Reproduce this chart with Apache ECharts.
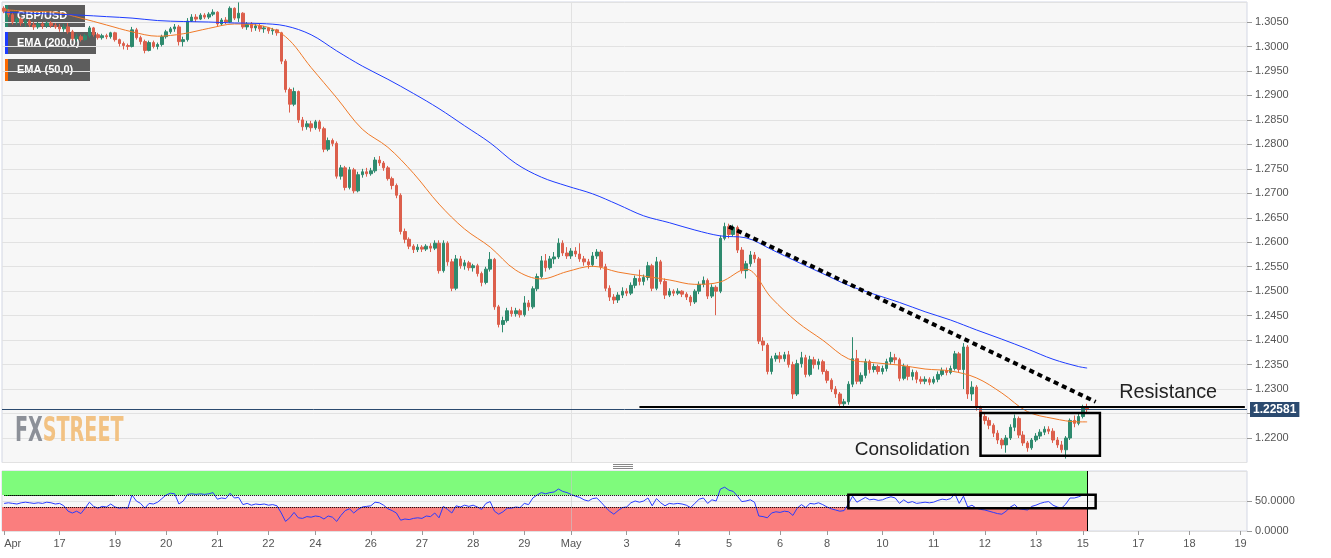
<!DOCTYPE html>
<html>
<head>
<meta charset="utf-8">
<script src="https://cdn.jsdelivr.net/npm/echarts/dist/echarts.min.js"></script>
<style>html,body{margin:0;padding:0;background:#fff}#c{width:1331px;height:558px}</style>
</head>
<body>
<div id="c"></div>
<script>
// ---- time slots (2-hour candles, weekends removed). [tick label, first hour, last hour]
const days = [
  ['Apr',20,22],['',0,20],['17',22,22],['',0,22],['19',0,22],['20',0,22],['21',0,22],['22',0,20],
  ['24',22,22],['',0,22],['26',0,22],['27',0,22],['28',0,22],['29',0,20],
  ['May',22,22],['',0,22],['3',0,22],['4',0,22],['5',0,22],['6',0,20],
  ['8',22,22],['',0,22],['10',0,22],['11',0,22],['12',0,22],['13',0,20],
  ['15',22,22],['',0,22],['17',0,22],['18',0,22],['19',0,2]
];
const categories = [], tickText = [];
days.forEach(function (d, di) {
  for (let h = d[1]; h <= d[2]; h += 2) { categories.push(di + ':' + h); tickText.push(h === d[1] ? d[0] : ''); }
});

// ---- GBP/USD candles [open, close, low, high]
const ohlc = [
[1.3078,1.3072,1.3068,1.3082],[1.3072,1.3065,1.3060,1.3076],[1.3065,1.3050,1.3045,1.3068],[1.3050,1.3056,1.3044,1.3060],
[1.3056,1.3048,1.3042,1.3060],[1.3048,1.3052,1.3040,1.3058],[1.3052,1.3044,1.3040,1.3056],[1.3044,1.3040,1.3034,1.3050],
[1.3040,1.3046,1.3036,1.3050],[1.3046,1.3042,1.3036,1.3050],[1.3042,1.3048,1.3038,1.3052],[1.3048,1.3043,1.3038,1.3052],
[1.3043,1.3040,1.3036,1.3048],[1.3040,1.3036,1.3030,1.3046],[1.3036,1.3040,1.3030,1.3046],[1.3040,1.3030,1.3026,1.3048],
[1.3030,1.3016,1.3012,1.3034],[1.3016,1.3020,1.3010,1.3026],[1.3020,1.3014,1.3010,1.3024],[1.3014,1.3022,1.3012,1.3026],
[1.3022,1.3038,1.3018,1.3042],[1.3038,1.3024,1.3020,1.3040],[1.3024,1.3018,1.3014,1.3028],[1.3018,1.3022,1.3014,1.3026],
[1.3022,1.3020,1.3015,1.3026],[1.3020,1.3028,1.3016,1.3030],[1.3028,1.3014,1.3010,1.3030],[1.3014,1.3006,1.3000,1.3016],
[1.3006,1.3002,1.2994,1.3010],[1.3002,1.3000,1.2993,1.3006],[1.3000,1.3034,1.2998,1.3040],[1.3034,1.3018,1.3014,1.3038],
[1.3018,1.3010,1.3004,1.3022],[1.3010,1.2992,1.2986,1.3014],[1.2992,1.3008,1.2990,1.3012],[1.3008,1.3000,1.2996,1.3012],
[1.3000,1.3004,1.2994,1.3008],[1.3004,1.3020,1.3000,1.3024],[1.3020,1.3030,1.3016,1.3034],[1.3030,1.3036,1.3026,1.3040],
[1.3036,1.3040,1.3030,1.3046],[1.3040,1.3010,1.3002,1.3044],[1.3010,1.3014,1.3000,1.3020],[1.3014,1.3052,1.3010,1.3058],
[1.3052,1.3060,1.3050,1.3066],[1.3060,1.3056,1.3050,1.3066],[1.3056,1.3064,1.3054,1.3068],[1.3064,1.3060,1.3056,1.3068],
[1.3060,1.3066,1.3056,1.3070],[1.3066,1.3070,1.3062,1.3076],[1.3070,1.3046,1.3040,1.3072],[1.3046,1.3054,1.3042,1.3058],
[1.3054,1.3050,1.3046,1.3060],[1.3050,1.3078,1.3048,1.3082],[1.3078,1.3058,1.3054,1.3080],[1.3058,1.3068,1.3050,1.3090],
[1.3068,1.3040,1.3036,1.3070],[1.3040,1.3046,1.3034,1.3050],[1.3046,1.3038,1.3030,1.3050],[1.3038,1.3042,1.3032,1.3046],
[1.3042,1.3036,1.3030,1.3046],[1.3036,1.3038,1.3028,1.3042],[1.3038,1.3032,1.3026,1.3040],[1.3032,1.3034,1.3024,1.3038],
[1.3034,1.3028,1.3022,1.3036],[1.3028,1.2970,1.2964,1.3030],[1.2970,1.2912,1.2906,1.2974],[1.2912,1.2882,1.2865,1.2916],
[1.2882,1.2908,1.2878,1.2916],[1.2908,1.2850,1.2844,1.2910],[1.2850,1.2836,1.2828,1.2856],[1.2836,1.2842,1.2830,1.2848],
[1.2842,1.2834,1.2826,1.2848],[1.2834,1.2846,1.2830,1.2850],[1.2846,1.2832,1.2826,1.2850],[1.2832,1.2790,1.2784,1.2836],
[1.2790,1.2808,1.2786,1.2814],[1.2808,1.2802,1.2796,1.2812],[1.2802,1.2735,1.2730,1.2806],[1.2735,1.2752,1.2728,1.2758],
[1.2752,1.2712,1.2706,1.2756],[1.2712,1.2748,1.2708,1.2754],[1.2748,1.2705,1.2700,1.2752],[1.2705,1.2738,1.2702,1.2744],
[1.2738,1.2744,1.2732,1.2750],[1.2744,1.2740,1.2734,1.2752],[1.2740,1.2746,1.2736,1.2752],[1.2746,1.2768,1.2742,1.2774],
[1.2768,1.2762,1.2756,1.2776],[1.2762,1.2752,1.2746,1.2766],[1.2752,1.2730,1.2726,1.2756],[1.2730,1.2716,1.2708,1.2734],
[1.2716,1.2696,1.2690,1.2720],[1.2696,1.2622,1.2616,1.2700],[1.2622,1.2606,1.2598,1.2628],[1.2606,1.2592,1.2586,1.2610],
[1.2592,1.2585,1.2578,1.2596],[1.2585,1.2590,1.2580,1.2596],[1.2590,1.2586,1.2580,1.2594],[1.2586,1.2592,1.2582,1.2596],
[1.2592,1.2588,1.2580,1.2598],[1.2588,1.2598,1.2584,1.2604],[1.2598,1.2542,1.2536,1.2604],[1.2542,1.2598,1.2538,1.2604],
[1.2598,1.2560,1.2552,1.2602],[1.2560,1.2506,1.2500,1.2566],[1.2506,1.2566,1.2502,1.2574],[1.2566,1.2552,1.2546,1.2572],
[1.2552,1.2558,1.2544,1.2564],[1.2558,1.2548,1.2542,1.2562],[1.2548,1.2552,1.2540,1.2556],[1.2552,1.2536,1.2530,1.2556],
[1.2536,1.2518,1.2510,1.2540],[1.2518,1.2545,1.2514,1.2550],[1.2545,1.2565,1.2540,1.2580],[1.2565,1.2468,1.2462,1.2568],
[1.2468,1.2432,1.2426,1.2472],[1.2432,1.2440,1.2416,1.2448],[1.2440,1.2460,1.2436,1.2466],[1.2460,1.2454,1.2448,1.2468],
[1.2454,1.2460,1.2448,1.2466],[1.2460,1.2452,1.2446,1.2464],[1.2452,1.2476,1.2448,1.2490],[1.2476,1.2468,1.2460,1.2482],
[1.2468,1.2505,1.2464,1.2510],[1.2505,1.2530,1.2500,1.2536],[1.2530,1.2562,1.2526,1.2572],[1.2562,1.2548,1.2540,1.2576],
[1.2548,1.2566,1.2544,1.2572],[1.2566,1.2570,1.2556,1.2580],[1.2570,1.2598,1.2566,1.2608],[1.2598,1.2578,1.2572,1.2604],
[1.2578,1.2572,1.2566,1.2590],[1.2572,1.2582,1.2566,1.2588],[1.2582,1.2576,1.2570,1.2590],[1.2576,1.2566,1.2560,1.2598],
[1.2566,1.2560,1.2552,1.2572],[1.2560,1.2554,1.2546,1.2566],[1.2554,1.2572,1.2550,1.2580],[1.2572,1.2580,1.2566,1.2586],
[1.2580,1.2550,1.2544,1.2584],[1.2550,1.2506,1.2500,1.2556],[1.2506,1.2488,1.2480,1.2512],[1.2488,1.2482,1.2474,1.2494],
[1.2482,1.2492,1.2476,1.2498],[1.2492,1.2500,1.2486,1.2508],[1.2500,1.2496,1.2490,1.2506],[1.2496,1.2512,1.2492,1.2518],
[1.2512,1.2526,1.2506,1.2532],[1.2526,1.2520,1.2512,1.2544],[1.2520,1.2528,1.2512,1.2534],[1.2528,1.2552,1.2522,1.2560],
[1.2552,1.2506,1.2500,1.2556],[1.2506,1.2560,1.2502,1.2570],[1.2560,1.2520,1.2514,1.2564],[1.2520,1.2492,1.2484,1.2526],
[1.2492,1.2500,1.2488,1.2506],[1.2500,1.2496,1.2490,1.2504],[1.2496,1.2500,1.2492,1.2506],[1.2500,1.2494,1.2488,1.2502],
[1.2494,1.2488,1.2482,1.2498],[1.2488,1.2478,1.2470,1.2492],[1.2478,1.2500,1.2474,1.2504],[1.2500,1.2514,1.2494,1.2520],
[1.2514,1.2522,1.2508,1.2530],[1.2522,1.2490,1.2484,1.2526],[1.2490,1.2508,1.2486,1.2514],[1.2508,1.2500,1.2451,1.2512],
[1.2500,1.2608,1.2496,1.2614],[1.2608,1.2632,1.2604,1.2640],[1.2632,1.2616,1.2608,1.2638],[1.2616,1.2630,1.2612,1.2636],
[1.2630,1.2584,1.2578,1.2634],[1.2584,1.2542,1.2536,1.2590],[1.2542,1.2556,1.2526,1.2562],[1.2556,1.2574,1.2550,1.2582],
[1.2574,1.2566,1.2558,1.2580],[1.2566,1.2398,1.2392,1.2570],[1.2398,1.2390,1.2378,1.2406],[1.2390,1.2336,1.2330,1.2394],
[1.2336,1.2362,1.2330,1.2368],[1.2362,1.2368,1.2356,1.2374],[1.2368,1.2362,1.2354,1.2376],[1.2362,1.2370,1.2356,1.2376],
[1.2370,1.2350,1.2344,1.2378],[1.2350,1.2290,1.2280,1.2356],[1.2290,1.2352,1.2286,1.2360],[1.2352,1.2364,1.2344,1.2376],
[1.2364,1.2330,1.2324,1.2370],[1.2330,1.2360,1.2326,1.2368],[1.2360,1.2350,1.2342,1.2366],[1.2350,1.2356,1.2340,1.2362],
[1.2356,1.2336,1.2330,1.2360],[1.2336,1.2318,1.2312,1.2340],[1.2318,1.2300,1.2294,1.2322],[1.2300,1.2290,1.2282,1.2306],
[1.2290,1.2270,1.2264,1.2294],[1.2270,1.2274,1.2262,1.2280],[1.2274,1.2310,1.2268,1.2316],[1.2310,1.2362,1.2304,1.2406],
[1.2362,1.2316,1.2310,1.2380],[1.2316,1.2328,1.2310,1.2334],[1.2328,1.2356,1.2322,1.2362],[1.2356,1.2340,1.2332,1.2360],
[1.2340,1.2346,1.2334,1.2352],[1.2346,1.2336,1.2330,1.2350],[1.2336,1.2342,1.2330,1.2348],[1.2342,1.2356,1.2336,1.2362],
[1.2356,1.2364,1.2350,1.2376],[1.2364,1.2360,1.2352,1.2372],[1.2360,1.2322,1.2316,1.2364],[1.2322,1.2346,1.2318,1.2352],
[1.2346,1.2326,1.2318,1.2350],[1.2326,1.2334,1.2318,1.2340],[1.2334,1.2320,1.2312,1.2338],[1.2320,1.2316,1.2310,1.2326],
[1.2316,1.2320,1.2310,1.2326],[1.2320,1.2314,1.2308,1.2324],[1.2314,1.2320,1.2310,1.2326],[1.2320,1.2330,1.2314,1.2336],
[1.2330,1.2338,1.2326,1.2344],[1.2338,1.2334,1.2328,1.2344],[1.2334,1.2342,1.2330,1.2348],[1.2342,1.2372,1.2338,1.2378],
[1.2372,1.2340,1.2334,1.2376],[1.2340,1.2386,1.2300,1.2394],[1.2386,1.2290,1.2280,1.2390],[1.2290,1.2304,1.2276,1.2316],
[1.2304,1.2262,1.2256,1.2308],[1.2262,1.2244,1.2238,1.2266],[1.2244,1.2236,1.2228,1.2250],[1.2236,1.2226,1.2218,1.2242],
[1.2226,1.2210,1.2202,1.2230],[1.2210,1.2196,1.2188,1.2216],[1.2196,1.2186,1.2178,1.2200],[1.2186,1.2200,1.2170,1.2206],
[1.2200,1.2222,1.2196,1.2228],[1.2222,1.2240,1.2214,1.2248],[1.2240,1.2206,1.2200,1.2244],[1.2206,1.2190,1.2184,1.2214],
[1.2190,1.2180,1.2172,1.2194],[1.2180,1.2196,1.2176,1.2200],[1.2196,1.2204,1.2192,1.2210],[1.2204,1.2212,1.2198,1.2218],
[1.2212,1.2218,1.2206,1.2224],[1.2218,1.2214,1.2208,1.2224],[1.2214,1.2196,1.2190,1.2220],[1.2196,1.2186,1.2180,1.2202],
[1.2186,1.2176,1.2170,1.2194],[1.2176,1.2200,1.2158,1.2204],[1.2200,1.2236,1.2196,1.2240],[1.2236,1.2230,1.2222,1.2246],
[1.2230,1.2244,1.2226,1.2250],[1.2244,1.2262,1.2240,1.2268],[1.2262,1.22581,1.2252,1.2270]
];

// ---- EMA readings [slot, value]
const ema200 = [[0,1.3070],[6,1.3068],[12,1.3066],[18,1.3064],[24,1.3061],[30,1.3058],[36,1.3053],[42,1.3051],[48,1.3050],
[54,1.3048],[60,1.3047],[66,1.3042],[72,1.3024],[78,1.2991],[84,1.2960],[90,1.2933],[96,1.2904],[102,1.2873],[108,1.2838],
[114,1.2803],[120,1.2761],[126,1.2733],[132,1.2715],[138,1.2699],[144,1.2677],[150,1.2654],[156,1.2640],[162,1.2625],
[168,1.2613],[174,1.2609],[180,1.2585],[186,1.2560],[192,1.2536],[198,1.2512],[204,1.2494],[210,1.2477],[216,1.2458],
[222,1.2441],[228,1.2421],[234,1.2402],[240,1.2382],[246,1.2361],[252,1.2346],[254,1.2343]];
const ema50 = [[0,1.3075],[6,1.3072],[12,1.3070],[18,1.3058],[24,1.3044],[30,1.3030],[36,1.3021],[42,1.3026],[48,1.3037],
[54,1.3046],[60,1.3043],[66,1.3020],[72,1.2957],[78,1.2895],[84,1.2831],[90,1.2794],[96,1.2741],[102,1.2678],[108,1.2627],
[114,1.2590],[120,1.2543],[126,1.2525],[132,1.2540],[138,1.2551],[144,1.2539],[150,1.2531],[156,1.2523],[162,1.2514],
[168,1.2519],[174,1.2545],[180,1.2486],[186,1.2437],[192,1.2400],[198,1.2362],[204,1.2354],[210,1.2349],[216,1.2341],
[222,1.2337],[228,1.2323],[234,1.2292],[240,1.2254],[246,1.2240],[252,1.2233],[254,1.2233]];

// ---- RSI (14) per slot
const rsi = [46,47,46,45,47,48,47,46,47,46,48,47,45,46,42,33,30,33,29,38,48,41,38,41,40,45,40,38,39,38,
60,50,46,38,46,45,48,54,60,63,62,45,50,61,62,61,62,61,62,64,53,55,54,63,55,56,44,46,43,45,
44,45,43,44,42,30,16,22,31,22,21,24,23,25,24,20,25,23,16,26,34,37,30,36,40,41,42,48,47,43,
37,34,30,18,20,19,21,22,21,25,24,30,22,41,36,30,42,40,43,41,43,40,36,46,49,33,28,32,38,38,
40,39,46,44,55,60,64,62,64,65,70,66,64,61,58,56,52,50,54,55,48,40,33,28,34,39,40,47,50,48,
50,55,42,54,47,42,46,45,46,45,43,39,46,53,55,46,52,50,70,73,68,66,58,49,50,52,48,25,24,22,
30,32,31,33,32,26,38,44,39,46,45,47,44,40,37,35,33,34,45,58,48,52,56,52,53,51,52,55,57,55,
46,52,47,49,46,47,48,47,48,51,53,52,54,62,46,58,40,43,38,36,35,33,31,29,28,33,40,44,37,36,
35,41,43,46,48,49,43,40,38,45,55,55,57,60,59];

// ---- annotations (slot, price / rsi)
const lastPrice = 1.22581;
const resistance = 1.2264, resistanceFrom = 149, axisEnd = 291;
const trendline = [[170,1.2632],[256,1.2274]];
const consolidationBox = [[229,1.2251],[257,1.2164]];
const rsiBox = [[198,60.5],[256,38]];
const monthStart = 133, lastSlot = 254;
const priceTicks = {min:1.215, max:1.30909, interval:0.005};

const FONT = '"Liberation Sans", Arial, sans-serif';
const showTick = function (i) { return tickText[i] !== ''; };
const chart = echarts.init(document.getElementById('c'));

function legendBox(top, w, h, label, stripe, fill) {
  return {type:'group', left:5, top:top, z:100, children:[
    {type:'rect', shape:{x:0,y:0,width:w,height:h}, style:{fill:fill}},
    {type:'rect', shape:{x:0,y:0,width:3,height:h}, style:{fill:stripe}},
    {type:'text', x:12, y:h/2, style:{text:label, fill:'#fff', font:'bold 11px ' + FONT, verticalAlign:'middle'}}
  ]};
}

chart.setOption({
  animation:false,
  backgroundColor:'#ffffff',
  textStyle:{fontFamily:FONT},
  grid:[
    {left:2, top:2, width:1245, height:460.5, show:true, backgroundColor:'#f7f7f7', borderColor:'#d3d7e4', borderWidth:1},
    {left:2, top:471, width:1245, height:60, show:true, backgroundColor:'#f7f7f7', borderColor:'#d3d7e4', borderWidth:1}
  ],
  xAxis:[
    {type:'category', gridIndex:0, data:categories, axisLine:{show:false}, axisTick:{show:false}, axisLabel:{show:false}, splitLine:{show:false}},
    {type:'category', gridIndex:1, data:categories, axisLine:{show:false},
     axisTick:{show:true, alignWithLabel:true, interval:showTick, length:4, lineStyle:{color:'#999'}},
     axisLabel:{interval:showTick, formatter:function (v, i) { return tickText[i]; }, color:'#555', fontSize:11, margin:7, alignMinLabel:'left'},
     splitLine:{show:false}}
  ],
  yAxis:[
    {type:'value', gridIndex:0, position:'right', min:priceTicks.min, max:priceTicks.max, interval:priceTicks.interval,
     axisLine:{show:false}, axisTick:{show:true, length:5, lineStyle:{color:'#999'}},
     axisLabel:{color:'#555', fontSize:11, margin:8, showMinLabel:false, showMaxLabel:false,
       formatter:function (v) { return Math.abs(v - 1.225) < 1e-7 ? '' : v.toFixed(4); }},
     splitLine:{lineStyle:{color:'#e2e2e2'}}},
    {type:'value', gridIndex:1, position:'right', min:0, max:100, interval:50,
     axisLine:{show:false}, axisTick:{show:true, length:5, lineStyle:{color:'#999'}},
     axisLabel:{color:'#555', fontSize:11, margin:8, showMaxLabel:false, formatter:function (v) { return v.toFixed(4); }},
     splitLine:{lineStyle:{color:'#e2e2e2'}}}
  ],
  series:[
    {type:'line', name:'EMA (50,0)', xAxisIndex:0, yAxisIndex:0, data:ema50, symbol:'none', smooth:0.35,
     lineStyle:{color:'#f07a28', width:1}, z:3,
     markLine:{silent:true, symbol:['none','none'], z:1, label:{show:false},
       data:[{xAxis:monthStart, lineStyle:{color:'#e2e2e2', width:1, type:'solid'}}]}},
    {type:'candlestick', name:'GBP/USD', xAxisIndex:0, yAxisIndex:0, data:ohlc, barWidth:3, z:2,
     itemStyle:{color:'#2e8a6e', color0:'#dc5f4c', borderColor:'#2e8a6e', borderColor0:'#dc5f4c', borderWidth:1},
     markLine:{silent:true, precision:5, symbol:['none','none'], label:{show:false}, z:5,
       data:[
         {yAxis:lastPrice, lineStyle:{color:'#2b4a6f', width:1, type:'solid'},
          label:{show:true, position:'end', formatter:String(lastPrice), distance:3, color:'#fff', fontWeight:'bold', fontSize:12,
                 backgroundColor:'#2b4a6f', padding:[2,3,1,3]}},
         [{coord:[resistanceFrom, resistance], lineStyle:{color:'#000', width:2, type:'solid'}}, {coord:[axisEnd, resistance]}],
         [{coord:trendline[0], lineStyle:{color:'#000', width:4, type:[5,4]}}, {coord:trendline[1]}]
       ]},
     markPoint:{silent:true, symbol:'rect', symbolSize:1, itemStyle:{color:'rgba(0,0,0,0)'},
       label:{show:true, position:'inside', formatter:'{b}', color:'#222'},
       data:[
         {name:'Resistance', coord:[272.5, 1.2293], label:{fontSize:19.8}},
         {name:'Consolidation', coord:[212.5, 1.21765], label:{fontSize:19}}
       ]}},
    {type:'line', name:'EMA (200,0)', xAxisIndex:0, yAxisIndex:0, data:ema200, symbol:'none', smooth:0.35,
     lineStyle:{color:'#1e3cff', width:1}, z:3,
     markArea:{silent:true, z:10, itemStyle:{color:'rgba(0,0,0,0)', borderColor:'#000', borderWidth:2.5},
       data:[[{coord:consolidationBox[0]}, {coord:consolidationBox[1]}]]}},
    {type:'line', name:'RSI', xAxisIndex:1, yAxisIndex:1, data:rsi, symbol:'none',
     lineStyle:{color:'#2a3cff', width:1}, z:3,
     markArea:{silent:true,
       data:[
         [{yAxis:60, itemStyle:{color:'#7ffb7c'}}, {xAxis:lastSlot, yAxis:100}],
         [{yAxis:0, itemStyle:{color:'#fa7e7e'}}, {xAxis:lastSlot, yAxis:40}]
       ]},
     markLine:{silent:true, symbol:['none','none'], label:{show:false},
       data:[
         [{coord:[0,60], lineStyle:{color:'#000', width:1, type:'dotted'}}, {coord:[lastSlot,60]}],
         [{coord:[0,40], lineStyle:{color:'#000', width:1, type:'dotted'}}, {coord:[lastSlot,40]}],
         [{coord:[lastSlot,0], lineStyle:{color:'#000', width:1, type:'solid'}}, {coord:[lastSlot,100]}],
         {xAxis:monthStart, lineStyle:{color:'rgba(200,200,200,0.6)', width:1, type:'solid'}}
       ]}},
    {type:'line', xAxisIndex:1, yAxisIndex:1, data:rsi, symbol:'none', lineStyle:{opacity:0}, z:1,
     markArea:{silent:true, z:10, itemStyle:{color:'rgba(0,0,0,0)', borderColor:'#000', borderWidth:2.5},
       data:[[{coord:rsiBox[0]}, {coord:rsiBox[1]}]]}}
  ],
  graphic:[
    legendBox(5, 80, 22, 'GBP/USD', '#2e8a6e', 'rgba(72,72,72,0.88)'),
    legendBox(32, 91, 22, 'EMA (200,0)', '#1e3cff', 'rgba(72,72,72,0.88)'),
    legendBox(59, 85, 22, 'EMA (50,0)', '#ff6a00', 'rgba(72,72,72,0.88)'),
    legendBox(475, 110, 21, 'RSI (14,60,40,1)', '#00f000', 'rgba(40,88,40,0.95)'),
    {type:'text', x:15, y:415, z:1, scaleX:0.625, originX:0, originY:0,
     style:{text:'{a|FX}{b|STREET}', verticalAlign:'top',
       rich:{a:{fill:'#8c9098', font:'bold 34px "Liberation Sans Narrow", "DejaVu Sans Condensed", sans-serif'},
             b:{fill:'#f2c283', font:'bold 34px "Liberation Sans Narrow", "DejaVu Sans Condensed", sans-serif'}}}},
    {type:'group', z:100, children:[
      {type:'line', shape:{x1:613, y1:464.5, x2:633, y2:464.5}, style:{stroke:'#888', lineWidth:1}},
      {type:'line', shape:{x1:613, y1:466.5, x2:633, y2:466.5}, style:{stroke:'#888', lineWidth:1}},
      {type:'line', shape:{x1:613, y1:468.5, x2:633, y2:468.5}, style:{stroke:'#888', lineWidth:1}}
    ]}
  ]
});
</script>
</body>
</html>
